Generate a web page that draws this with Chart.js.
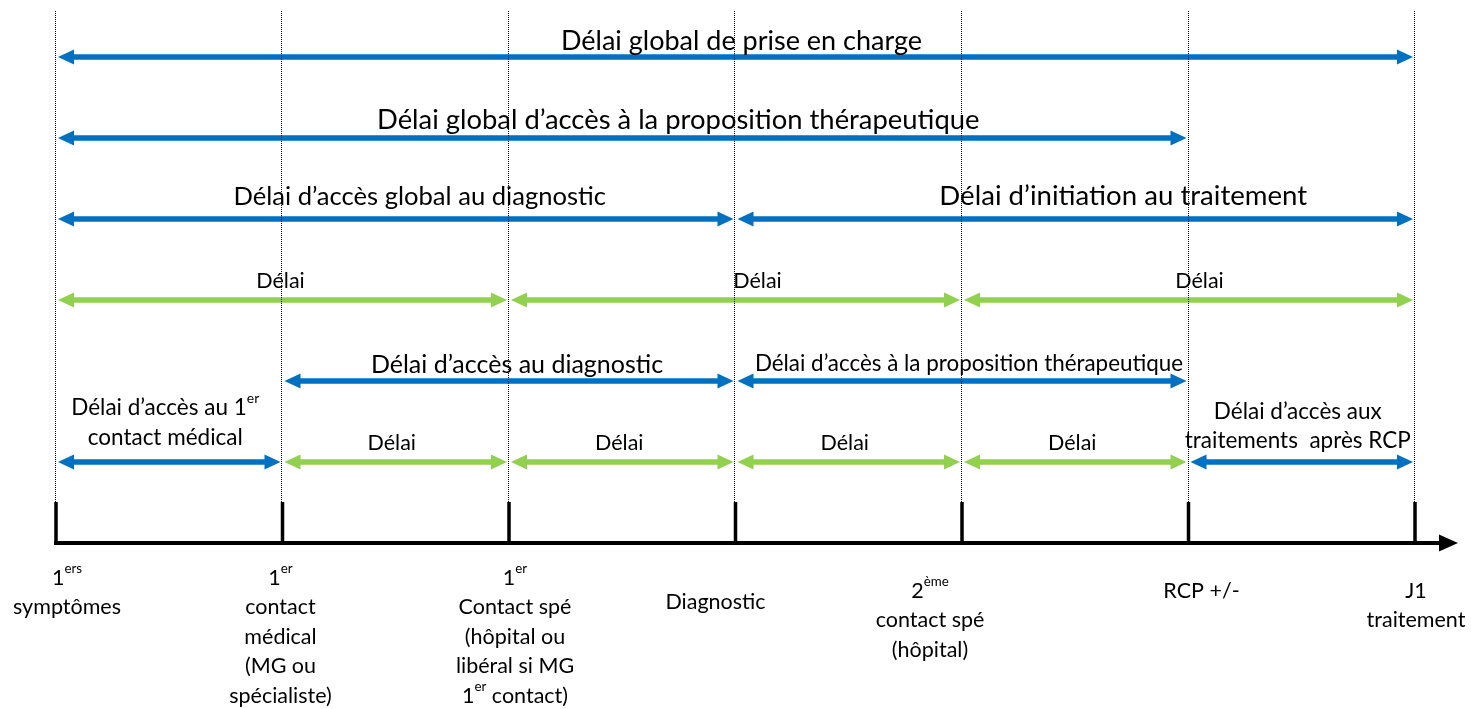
<!DOCTYPE html>
<html><head><meta charset="utf-8">
<script src="https://cdn.jsdelivr.net/npm/chart.js@4.4.0/dist/chart.umd.min.js"></script>
<style>html,body{margin:0;padding:0;background:#fff;overflow:hidden}canvas{display:block}</style>
</head><body><canvas id="c" width="1471" height="709"></canvas>
<script>
// ---------- data ----------
const MILESTONES = [0, 1, 2, 3, 4, 5, 6];
const MILESTONE_LABELS = [
  ["1^{ers}", "symptômes"],
  ["1^{er}", "contact", "médical", "(MG ou", "spécialiste)"],
  ["1^{er}", "Contact spé", "(hôpital ou", "libéral si MG", "1^{er} contact)"],
  ["Diagnostic"],
  ["2^{ème}", "contact spé", "(hôpital)"],
  ["RCP +/-"],
  ["J1", "traitement"]
];
const SPAN_LABELS = [
  "Délai global de prise en charge",
  "Délai global d’accès à la proposition thérapeutique",
  "Délai d’accès global au diagnostic",
  "Délai d’initiation au traitement",
  "Délai", "Délai", "Délai",
  "Délai d’accès au diagnostic",
  "Délai d’accès à la proposition thérapeutique",
  "Délai d’accès au 1^{er}|contact médical",
  "Délai", "Délai", "Délai", "Délai",
  "Délai d’accès aux|traitements  après RCP"
];
const SPAN_FROM = [0, 0, 0, 3, 0, 2, 4, 1, 3, 0, 1, 2, 3, 4, 5];
const SPAN_TO   = [6, 5, 3, 6, 2, 4, 6, 3, 5, 1, 2, 3, 4, 5, 6];
const SPAN_ROW  = [0, 1, 2, 2, 3, 3, 3, 4, 4, 5, 5, 5, 5, 5, 5];
const SPAN_KIND = ["global","global","global","global","step","step","step",
                   "global","global","global","step","step","step","step","global"];
const AXIS_ROW = 6;

// ---------- styles / layout ----------
const FONT = "Lato, Carlito, Calibri, 'Open Sans', sans-serif";
const KIND_COLOR = { global: "#0070C0", step: "#92D050" };
const SPAN_STYLE = [ // [fontSize, dx, dy(first line), lineHeight]
  [27, 6, -16, 0], [27.4, 56, -18, 0], [25.6, 24, -22, 0], [27.6, 48, -23, 0],
  [21.5, -2, -19, 0], [21.5, 22, -19, 0], [21.5, 11, -19, 0],
  [25, 8, -16, 0], [22.4, 7, -17, 0],
  [22.5, -4, -54, 30], [21.5, -4, -19, 0], [21.5, -3, -19, 0], [21.5, -4, -19, 0], [21.5, -3, -19, 0],
  [22.5, -4, -50, 29]
];
const MS_DX = [11, -2, 6, -20, -32, 13, 1];
const MS_DY = [35, 35, 35, 59, 48, 48, 48];
const MS_SIZE = 21.5, MS_LH = 29.5;

function drawRich(ctx, text, cx, cy, size) {
  const parts = [];
  const re = /\^\{([^}]*)\}/g; let last = 0, m;
  while ((m = re.exec(text))) {
    if (m.index > last) parts.push([text.slice(last, m.index), false]);
    parts.push([m[1], true]); last = re.lastIndex;
  }
  if (last < text.length) parts.push([text.slice(last), false]);
  let w = 0;
  parts.forEach(p => { ctx.font = (p[1] ? size * 0.62 : size) + "px " + FONT; p.push(ctx.measureText(p[0]).width); w += p[2]; });
  let x = cx - w / 2;
  ctx.textAlign = "left"; ctx.textBaseline = "middle"; ctx.fillStyle = "#000";
  parts.forEach(p => {
    ctx.font = (p[1] ? size * 0.62 : size) + "px " + FONT;
    ctx.fillText(p[0], x, p[1] ? cy - size * 0.42 : cy);
    x += p[2];
  });
}

function arrow(ctx, x1, x2, y, color) {
  const inset = 2, hl = 16, hw = 7.5, sw = 5.5;
  const a = x1 + inset, b = x2 - inset;
  ctx.fillStyle = color;
  ctx.fillRect(a + hl - 1, y - sw / 2, (b - hl + 1) - (a + hl - 1), sw);
  ctx.beginPath(); ctx.moveTo(a, y); ctx.lineTo(a + hl, y - hw); ctx.lineTo(a + hl, y + hw); ctx.closePath(); ctx.fill();
  ctx.beginPath(); ctx.moveTo(b, y); ctx.lineTo(b - hl, y - hw); ctx.lineTo(b - hl, y + hw); ctx.closePath(); ctx.fill();
}

const timelinePlugin = {
  id: "timeline",
  afterDatasetsDraw(chart) {
    const { ctx, scales: { x, y }, chartArea } = chart;
    const axisY = y.getPixelForValue(AXIS_ROW);
    ctx.save();
    // span arrows + labels
    SPAN_LABELS.forEach((lab, i) => {
      const meta = chart.getDatasetMeta(i);
      const p0 = meta.data[0], p1 = meta.data[1];
      arrow(ctx, p0.x, p1.x, p0.y, chart.data.datasets[i].borderColor);
      const [fs, dx, dy, lh] = SPAN_STYLE[i];
      lab.split("|").forEach((line, k) => {
        drawRich(ctx, line, (p0.x + p1.x) / 2 + dx, p0.y + dy + k * lh, fs);
      });
    });
    // time axis
    const msMeta = chart.getDatasetMeta(SPAN_LABELS.length);
    const xs = msMeta.data.map(p => p.x);
    ctx.fillStyle = "#000";
    ctx.fillRect(xs[0] - 2, axisY - 2, xs[xs.length - 1] + 26 - (xs[0] - 2), 4);
    ctx.beginPath();
    ctx.moveTo(xs[xs.length - 1] + 43, axisY);
    ctx.lineTo(xs[xs.length - 1] + 24, axisY - 8.5);
    ctx.lineTo(xs[xs.length - 1] + 24, axisY + 8.5);
    ctx.closePath(); ctx.fill();
    xs.forEach((px, i) => {
      ctx.fillRect(px - 1.75, axisY - 41, 3.5, 41);
      MILESTONE_LABELS[i].forEach((line, k) => {
        drawRich(ctx, line, px + MS_DX[i], axisY + MS_DY[i] + k * MS_LH, MS_SIZE);
      });
    });
    // dotted guides
    ctx.strokeStyle = "#000"; ctx.lineWidth = 1; ctx.setLineDash([1, 1]);
    xs.forEach(px => {
      const gx = Math.round(px) - 0.5;
      ctx.beginPath(); ctx.moveTo(gx, chartArea.top + 11); ctx.lineTo(gx, axisY - 41); ctx.stroke();
    });
    ctx.restore();
  }
};

const datasets = SPAN_LABELS.map((lab, i) => ({
  label: lab,
  data: [{ x: SPAN_FROM[i], y: SPAN_ROW[i] }, { x: SPAN_TO[i], y: SPAN_ROW[i] }],
  borderColor: KIND_COLOR[SPAN_KIND[i]],
  backgroundColor: KIND_COLOR[SPAN_KIND[i]],
  showLine: false, pointRadius: 0
}));
datasets.push({
  label: "jalons",
  data: MILESTONES.map(m => ({ x: m, y: AXIS_ROW })),
  showLine: false, pointRadius: 0
});

new Chart(document.getElementById("c"), {
  type: "scatter",
  data: { datasets },
  options: {
    responsive: false, animation: false, devicePixelRatio: 1, events: [],
    layout: { padding: 0 },
    plugins: { legend: { display: false }, tooltip: { enabled: false } },
    scales: {
      x: { type: "linear", display: false, min: -56 / 226.5, max: 1415 / 226.5 },
      y: { type: "linear", display: false, reverse: true, min: -57 / 81, max: 652 / 81 }
    }
  },
  plugins: [timelinePlugin]
});
</script></body></html>
